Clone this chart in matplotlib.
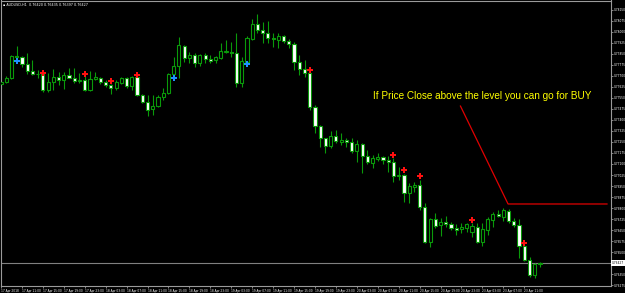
import matplotlib.pyplot as plt
import numpy as np

# AUDUSD H1, 17 Apr 2018 07:00 -> 23 Apr 2018 14:00
opens = [0.77642, 0.77658, 0.77685, 0.77834, 0.77825, 0.77780, 0.77734, 0.77710, 0.77710, 0.77603,
         0.77657, 0.77693, 0.77671, 0.77705, 0.77687, 0.77666, 0.77671, 0.77603, 0.77676, 0.77687,
         0.77659, 0.77637, 0.77615, 0.77653, 0.77683, 0.77632, 0.77689, 0.77569, 0.77521, 0.77472,
         0.77494, 0.77553, 0.77581, 0.77710, 0.77766, 0.77902, 0.77823, 0.77841, 0.77789, 0.77841,
         0.77814, 0.77807, 0.77819, 0.77859, 0.77863, 0.77857, 0.77653, 0.77795, 0.77950, 0.78050,
         0.78011, 0.77989, 0.77959, 0.77943, 0.77970, 0.77936, 0.77914, 0.77791, 0.77746, 0.77717,
         0.77489, 0.77358, 0.77275, 0.77224, 0.77290, 0.77247, 0.77263, 0.77249, 0.77188, 0.77236,
         0.77154, 0.77109, 0.77132, 0.77149, 0.77127, 0.77113, 0.77016, 0.77025, 0.76901, 0.76941,
         0.76957, 0.76805, 0.76571, 0.76724, 0.76685, 0.76703, 0.76692, 0.76663, 0.76656, 0.76667,
         0.76639, 0.76673, 0.76571, 0.76651, 0.76719, 0.76760, 0.76741, 0.76782, 0.76714, 0.76683,
         0.76542, 0.76447, 0.76345, 0.76420]
highs = [0.77671, 0.77698, 0.77841, 0.77902, 0.77834, 0.77855, 0.77807, 0.77739, 0.77712, 0.77719,
         0.77746, 0.77727, 0.77727, 0.77753, 0.77753, 0.77717, 0.77698, 0.77734, 0.77727, 0.77693,
         0.77671, 0.77644, 0.77671, 0.77693, 0.77689, 0.77698, 0.77695, 0.77576, 0.77569, 0.77569,
         0.77569, 0.77617, 0.77721, 0.77829, 0.77965, 0.77909, 0.77863, 0.77853, 0.77848, 0.77853,
         0.77841, 0.77834, 0.77921, 0.77943, 0.77931, 0.77989, 0.77829, 0.77970, 0.78084, 0.78118,
         0.78067, 0.78072, 0.77993, 0.77993, 0.77977, 0.77948, 0.77931, 0.77841, 0.77807, 0.77719,
         0.77501, 0.77365, 0.77279, 0.77326, 0.77331, 0.77309, 0.77275, 0.77279, 0.77263, 0.77245,
         0.77195, 0.77161, 0.77177, 0.77154, 0.77154, 0.77141, 0.77081, 0.77035, 0.76969, 0.76979,
         0.76991, 0.76837, 0.76731, 0.76769, 0.76731, 0.76746, 0.76707, 0.76692, 0.76701, 0.76697,
         0.76699, 0.76697, 0.76697, 0.76741, 0.76775, 0.76787, 0.76799, 0.76792, 0.76731, 0.76724,
         0.76546, 0.76467, 0.76429, 0.76435]
lows = [0.77617, 0.77650, 0.77678, 0.77821, 0.77761, 0.77712, 0.77705, 0.77685, 0.77591, 0.77591,
        0.77603, 0.77637, 0.77608, 0.77685, 0.77653, 0.77649, 0.77596, 0.77598, 0.77671, 0.77644,
        0.77625, 0.77576, 0.77603, 0.77644, 0.77615, 0.77603, 0.77562, 0.77513, 0.77426, 0.77433,
        0.77485, 0.77535, 0.77576, 0.77705, 0.77683, 0.77795, 0.77785, 0.77761, 0.77766, 0.77785,
        0.77785, 0.77785, 0.77812, 0.77853, 0.77829, 0.77625, 0.77625, 0.77793, 0.77943, 0.77989,
        0.77925, 0.77921, 0.77897, 0.77887, 0.77921, 0.77887, 0.77739, 0.77705, 0.77693, 0.77467,
        0.77309, 0.77217, 0.77177, 0.77211, 0.77241, 0.77229, 0.77217, 0.77173, 0.77115, 0.77037,
        0.77100, 0.77071, 0.77122, 0.77100, 0.77047, 0.76979, 0.76991, 0.76843, 0.76833, 0.76911,
        0.76787, 0.76561, 0.76537, 0.76663, 0.76610, 0.76673, 0.76651, 0.76617, 0.76633, 0.76639,
        0.76605, 0.76565, 0.76542, 0.76617, 0.76673, 0.76737, 0.76714, 0.76697, 0.76673, 0.76459,
        0.76440, 0.76329, 0.76323, 0.76397]
closes = [0.77659, 0.77687, 0.77834, 0.77825, 0.77780, 0.77734, 0.77710, 0.77715, 0.77603, 0.77657,
          0.77693, 0.77671, 0.77705, 0.77687, 0.77666, 0.77673, 0.77603, 0.77676, 0.77689, 0.77657,
          0.77637, 0.77615, 0.77659, 0.77683, 0.77632, 0.77689, 0.77569, 0.77521, 0.77467, 0.77494,
          0.77553, 0.77581, 0.77710, 0.77766, 0.77907, 0.77823, 0.77841, 0.77789, 0.77841, 0.77814,
          0.77802, 0.77825, 0.77868, 0.77868, 0.77855, 0.77653, 0.77800, 0.77955, 0.78050, 0.78011,
          0.77989, 0.77959, 0.77948, 0.77970, 0.77936, 0.77914, 0.77791, 0.77746, 0.77717, 0.77489,
          0.77358, 0.77275, 0.77224, 0.77290, 0.77256, 0.77263, 0.77249, 0.77188, 0.77236, 0.77154,
          0.77113, 0.77139, 0.77149, 0.77127, 0.77113, 0.77018, 0.77027, 0.76901, 0.76950, 0.76957,
          0.76805, 0.76571, 0.76724, 0.76680, 0.76703, 0.76692, 0.76663, 0.76653, 0.76673, 0.76690,
          0.76678, 0.76571, 0.76658, 0.76726, 0.76760, 0.76746, 0.76787, 0.76714, 0.76683, 0.76542,
          0.76447, 0.76345, 0.76420, 0.76427]

# signal arrows (bar index, price)
sell_bars = [8, 16, 21, 26, 59, 75, 77, 80, 90, 100]
sell_prices = [0.77722, 0.77715, 0.77664, 0.77705, 0.77739, 0.77161, 0.77056, 0.77015, 0.76722, 0.76566]
buy_bars = [3, 33, 47]
buy_prices = [0.77800, 0.77688, 0.77780]

time_labels = ['17 Apr 2018', '17 Apr 11:00', '17 Apr 15:00', '17 Apr 19:00', '17 Apr 23:00',
               '18 Apr 03:00', '18 Apr 07:00', '18 Apr 11:00', '18 Apr 15:00', '18 Apr 19:00',
               '18 Apr 23:00', '19 Apr 03:00', '19 Apr 07:00', '19 Apr 11:00', '19 Apr 15:00',
               '19 Apr 19:00', '19 Apr 23:00', '20 Apr 03:00', '20 Apr 07:00', '20 Apr 11:00',
               '20 Apr 15:00', '20 Apr 19:00', '20 Apr 23:00', '23 Apr 03:00', '23 Apr 07:00',
               '23 Apr 11:00']

buy_level = 0.76828
last_price = closes[-1]

green = '#0a9a0a'
o = np.array(opens)
h = np.array(highs)
l = np.array(lows)
c = np.array(closes)
x = np.arange(len(o))

fig = plt.figure(figsize=(6.25, 2.93), dpi=100, facecolor='black')
ax = fig.add_axes([0.5 / 625, 7 / 293, 610.5 / 625, 285.5 / 293])
ax.set_facecolor('black')

# wicks
ax.vlines(x, l, h, color=green, lw=0.8, zorder=2)
# bodies
up = c >= o
bh = np.abs(c - o)
bh = np.where(bh < 0.000015, 0.000015, bh)
ax.bar(x[up], bh[up], bottom=np.minimum(o, c)[up], width=0.6,
       color='black', edgecolor=green, lw=0.8, zorder=3)
ax.bar(x[~up], bh[~up], bottom=np.minimum(o, c)[~up], width=0.6,
       color='white', edgecolor=green, lw=0.8, zorder=3)

ax.plot(sell_bars, sell_prices, 'P', color='#ff1010', ms=3.8, mew=0, zorder=4)
ax.plot(buy_bars, buy_prices, 'P', color='#1e90ff', ms=3.8, mew=0, zorder=4)

# current price line
ax.axhline(last_price, color='#808080', lw=0.8, zorder=1)

# annotation
ax.plot([87.8, 96.9, 115.8], [0.77494, buy_level, buy_level], color='#e00000', lw=0.9, zorder=5)
ax.text(71.1, 0.77562, 'If Price Close above the level you can go for BUY', color='#ffff00',
        fontsize=7.2, family='Liberation Sans', va='center', ha='left', zorder=6)

ax.set_xlim(-0.096, 116.57)
ax.set_ylim(0.762702, 0.78212)

for s in ax.spines.values():
    s.set_color('#9a9a9a')
    s.set_linewidth(0.8)

yt = [0.76275 + 0.00075 * k for k in range(26)]
ax.yaxis.tick_right()
ax.set_yticks(yt)
ax.set_yticklabels(['' if abs(v - last_price) < 0.0003 else '%.5f' % v for v in yt])
ax.tick_params(axis='y', colors='#9a9a9a', labelcolor='white', labelsize=2.1, length=1.5, width=0.6, pad=0.8)

ax.set_xticks(np.arange(0, len(o), 4))
ax.set_xticklabels(time_labels, ha='left')
ax.tick_params(axis='x', colors='#9a9a9a', labelcolor='white', labelsize=2.1, length=1.5, width=0.6, pad=0.5)

ax.text(1.002, last_price, '%.5f' % last_price, transform=ax.get_yaxis_transform(),
        fontsize=2.1, color='black', va='center', ha='left',
        bbox=dict(boxstyle='square,pad=0.25', fc='white', ec='none'))

ax.text(0.004, 0.992, '\u25aa AUDUSD,H1  %.5f %.5f %.5f %.5f' % (o[-1], h[-1], l[-1], c[-1]),
        transform=ax.transAxes, fontsize=2.4, color='white', va='top', ha='left')

fig.savefig('out.png', dpi=100, facecolor='black')
